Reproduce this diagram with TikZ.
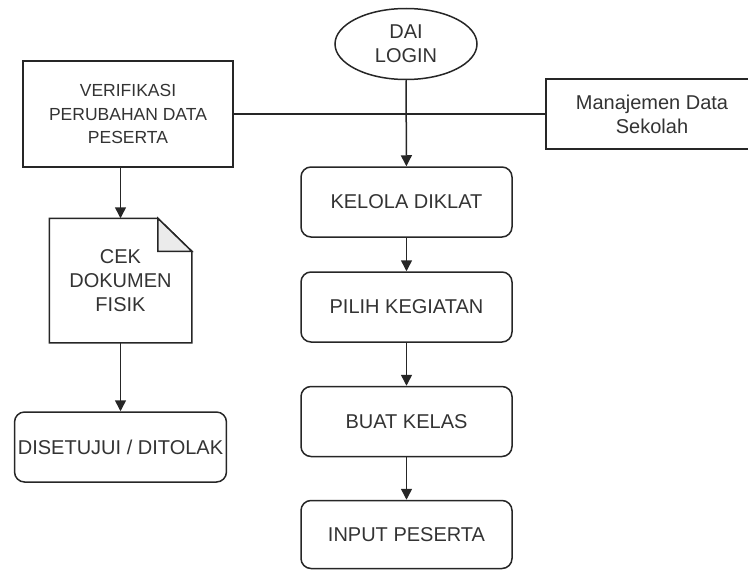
\documentclass[tikz,border=0pt]{standalone}
\usepackage{fontspec}
\setmainfont{Liberation Sans}
\usetikzlibrary{shapes.geometric,arrows.meta}

\definecolor{linegray}{HTML}{262626}
\definecolor{textgray}{HTML}{333333}
\definecolor{foldgray}{HTML}{EBEBEB}

\tikzstyle{roundnode} = [rectangle, rounded corners=10pt, draw=linegray, line width=1.5pt, minimum width=211pt, minimum height=70pt, align=center, text=textgray, font=\fontsize{20}{24}\selectfont]
\tikzstyle{boxnode} = [rectangle, draw=linegray, line width=1.5pt, align=center, text=textgray, font=\fontsize{20}{24}\selectfont]
\tikzstyle{ovalnode} = [ellipse, draw=linegray, line width=1.5pt, minimum width=142pt, minimum height=71pt, inner sep=0pt, align=center, text=textgray, font=\fontsize{20}{24}\selectfont]
\tikzstyle{docnode} = [rectangle, minimum width=141pt, minimum height=123pt, align=center, text=textgray, font=\fontsize{20}{24}\selectfont]

\begin{document}
\begin{tikzpicture}[x=1pt, y=-1pt, line width=1.5pt, >={Triangle[length=11pt,width=11pt]}]
        \useasboundingbox (0,0) rectangle (748,570);

        \node [ovalnode] (login) at (406,44) {DAI\\LOGIN};
        \node [boxnode, minimum width=210pt, minimum height=106pt, font=\fontsize{17.5}{23.5}\selectfont] (verif) at (128,114) {VERIFIKASI\\PERUBAHAN DATA\\PESERTA};
        \node [boxnode, minimum width=212pt, minimum height=70pt] (manaj) at (652,114) {Manajemen Data\\Sekolah};

        \node [roundnode] (kelola) at (406.5,202) {KELOLA DIKLAT};
        \node [roundnode, below of=kelola, node distance=105pt] (pilih) {PILIH KEGIATAN};
        \node [roundnode, below of=pilih, node distance=114.5pt] (buat) {BUAT KELAS};
        \node [roundnode, below of=buat, node distance=113pt, minimum height=68pt] (input) {INPUT PESERTA};

        \node [docnode] (doc) at (120.5,280.5) {CEK\\DOKUMEN\\FISIK};
        \node [roundnode] (setuju) at (120.5,447) {DISETUJUI / DITOLAK};

        % document shape with folded corner
        \draw [linegray] (doc.north west) -- ([xshift=-34pt]doc.north east) -- ([yshift=-33pt]doc.north east) -- (doc.south east) -- (doc.south west) -- cycle;
        \draw [linegray, fill=foldgray] ([xshift=-34pt]doc.north east) -- ([xshift=-34pt, yshift=-33pt]doc.north east) -- ([yshift=-33pt]doc.north east) -- cycle;

        \draw [linegray] (verif) -- (manaj);
        \draw [->, linegray] (login) -- (kelola);
        \draw [->, linegray] (kelola) -- (pilih);
        \draw [->, linegray] (pilih) -- (buat);
        \draw [->, linegray] (buat) -- (input);
        \draw [->, linegray] (doc.north |- verif.south) -- (doc.north);
        \draw [->, linegray] (doc) -- (setuju);

    \end{tikzpicture}
\end{document}
